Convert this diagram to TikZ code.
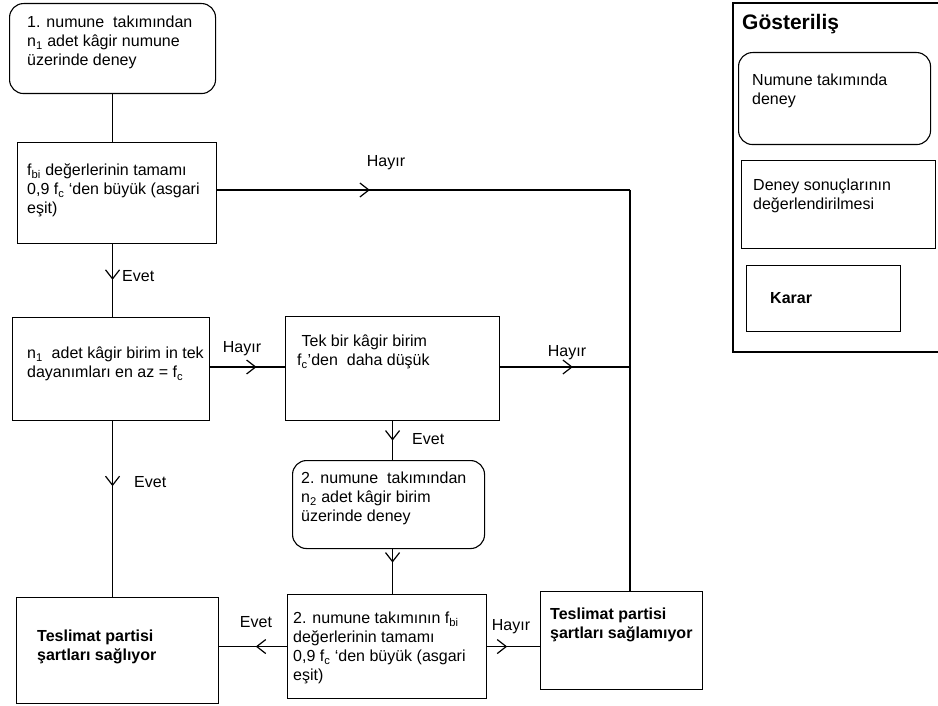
\documentclass[tikz,border=0pt]{standalone}
\usepackage{fontspec}
\setmainfont{Liberation Sans}
\usetikzlibrary{arrows.meta,decorations.markings}
\begin{document}
\begin{tikzpicture}[x=1pt,y=-1pt,
  every node/.style={font=\fontsize{16}{19}\selectfont},
  box/.style={draw, line width=1.1pt, anchor=north west, inner sep=0pt},
  rbox/.style={box, rounded corners=14pt},
  txt/.style={anchor=north west, align=left, inner sep=0pt},
  bold/.style={font=\fontsize{16}{19}\selectfont\bfseries},
  lbl/.style={inner sep=0pt},
  conn/.style={line width=1.1pt},
  midarrow/.style={postaction={decorate}, decoration={markings,
     mark=at position #1 with {\arrow{Straight Barb[length=9pt,width=14pt,line width=1.2pt]}}}}
]
\useasboundingbox (0,0) rectangle (938,706);

% boxes
\node[rbox, minimum width=206pt, minimum height=90pt] (A) at (9,3) {};
\node[txt] (At) at (27,16) {1. numune~ takımından\\n\textsubscript{1} adet kâgir numune\\üzerinde deney};

\node[box, minimum width=199pt, minimum height=101pt] (B) at (17,142) {};
\node[txt] (Bt) at (27,164) {f\textsubscript{bi} değerlerinin tamamı\\0,9 f\textsubscript{c} ‘den büyük (asgari\\eşit)};

\node[box, minimum width=197pt, minimum height=103pt] (C) at (12,317) {};
\node[txt] (Ct) at (27,347) {n\textsubscript{1}~ adet kâgir birim in tek\\dayanımları en az = f\textsubscript{c}};

\node[box, minimum width=214pt, minimum height=104pt] (D) at (285,316) {};
\node[txt] (Dt) at (297,335) {\ Tek bir kâgir birim\\f\textsubscript{c}'den~ daha düşük};

\node[rbox, minimum width=192pt, minimum height=88pt] (E) at (292,460) {};
\node[txt] (Et) at (301,472) {2. numune~ takımından\\n\textsubscript{2} adet kâgir birim\\üzerinde deney};

\node[box, minimum width=199pt, minimum height=104pt] (F) at (287,594) {};
\node[txt] (Ft) at (293,612) {2. numune takımının f\textsubscript{bi}\\değerlerinin tamamı\\0,9 f\textsubscript{c} ‘den büyük (asgari\\eşit)};

\node[box, minimum width=202pt, minimum height=106pt] (G) at (16,597) {};
\node[txt, bold] (Gt) at (37,630) {Teslimat partisi\\şartları sağlıyor};

\node[box, minimum width=162pt, minimum height=98pt] (H) at (540,591) {};
\node[txt, bold] (Ht) at (550,608) {Teslimat partisi\\şartları sağlamıyor};

% junction coordinates
\coordinate (J1) at (630,190);
\coordinate (J2) at (630,367);

% connectors
\draw[conn] (A.south) -- (A.south |- B.north);
\draw[conn, midarrow=0.37] (B.east |- J1) -- (J1);
\draw[conn] (J1) -- (J1 |- H.north);
\draw[conn, midarrow=0.49] (B.south -| A.south) -- (C.north -| A.south);
\draw[conn, midarrow=0.62] (C.east |- J2) -- (D.west |- J2);
\draw[conn, midarrow=0.56] (D.east |- J2) -- (J2);
\draw[conn, midarrow=0.5] (D.south) -- (D.south |- E.north);
\draw[conn, midarrow=0.3] (E.south -| D.south) -- (F.north -| D.south);
\draw[conn, midarrow=0.37] (C.south -| A.south) -- (G.north -| A.south);
\draw[conn, midarrow=0.46] (F.west) -- (F.west -| G.east);
\draw[conn, midarrow=0.38] (F.east) -- (F.east -| H.west);

% labels
\node[lbl] (l1) at (386,163) {Hayır};
\node[lbl, anchor=west] (l2) at (122,276) {Evet};
\node[lbl] (l3) at (242,349) {Hayır};
\node[lbl] (l4) at (567,353) {Hayır};
\node[lbl, anchor=west] (l5) at (412,439) {Evet};
\node[lbl, anchor=west] (l6) at (134,482) {Evet};
\node[lbl] (l7) at (256,622) {Evet};
\node[lbl] (l8) at (511,627) {Hayır};

% legend
\draw[conn] (938,3) -- (733,3) -- (733,352) -- (938,352);
\node[anchor=north west, inner sep=0pt, font=\fontsize{21}{24}\selectfont\bfseries] (Lt) at (742,14) {Gösteriliş};
\node[rbox, minimum width=192pt, minimum height=92pt] (L1) at (738,52) {};
\node[txt] (L1t) at (752,74) {Numune takımında\\deney};
\node[box, minimum width=194pt, minimum height=88pt] (L2) at (741,160) {};
\node[txt] (L2t) at (753,179) {Deney sonuçlarının\\değerlendirilmesi};
\node[box, minimum width=154pt, minimum height=66pt] (L3) at (746,265) {};
\node[txt, bold] (L3t) at (770,292) {Karar};
\end{tikzpicture}
\end{document}
